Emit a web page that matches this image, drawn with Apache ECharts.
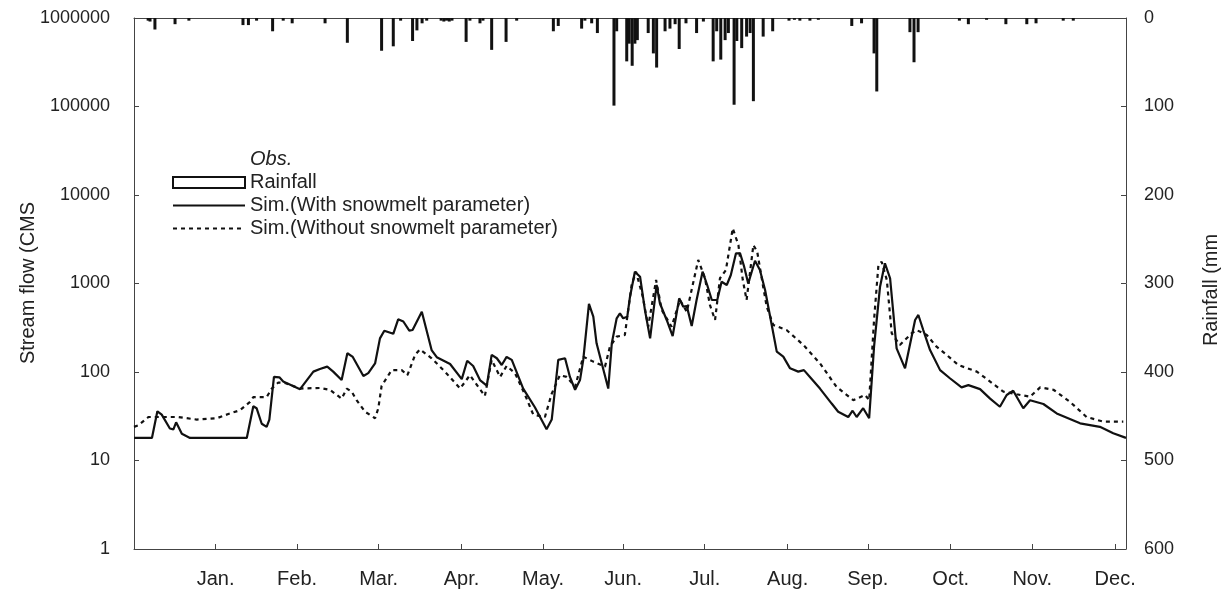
<!DOCTYPE html>
<html>
<head>
<meta charset="utf-8">
<script src="https://cdn.jsdelivr.net/npm/echarts@6/dist/echarts.min.js"></script>
<style>
html,body{margin:0;padding:0;background:#fff;}
#chart{width:1228px;height:594px;}
</style>
</head>
<body>
<div id="chart"></div>
<script>
// ---- data (day of year, values) ----
const monthTicks = [30, 60, 90, 120.5, 150.5, 180, 210, 240.5, 270, 300.5, 330.5, 361];
const monthLabels = ['Jan.', 'Feb.', 'Mar.', 'Apr.', 'May.', 'Jun.', 'Jul.', 'Aug.', 'Sep.', 'Oct.', 'Nov.', 'Dec.'];

const withDays = [0, 6.6, 8.6, 10.2, 13.2, 14.5, 15.5, 17.6, 20.6, 41.5, 43.9, 45.1, 47.0, 48.8, 49.8, 51.5, 53.5, 54.9, 61.1, 66.0, 68.4, 71.1, 73.3, 76.4, 78.5, 80.5, 84.4, 86.2, 88.7, 90.5, 92.1, 95.4, 97.2, 99.1, 101.3, 102.5, 105.9, 109.5, 111.4, 116.3, 120.6, 122.6, 124.8, 127.3, 129.8, 131.6, 133.5, 135.3, 137.1, 139.0, 143.2, 147.5, 151.8, 153.7, 156.1, 158.6, 160.4, 162.3, 164.1, 165.3, 167.4, 169.0, 170.2, 174.5, 175.8, 177.6, 178.8, 180.0, 181.5, 182.5, 184.3, 186.2, 188.0, 189.9, 192.3, 193.5, 196.0, 198.2, 200.6, 202.1, 203.4, 205.2, 207.0, 209.2, 210.9, 212.6, 214.6, 216.2, 218.1, 219.6, 221.5, 223.0, 224.5, 226.0, 228.5, 230.3, 232.2, 234.3, 236.5, 238.9, 241.4, 244.4, 246.5, 248.7, 252.4, 256.7, 259.1, 262.8, 264.4, 265.9, 268.3, 270.5, 272.3, 274.5, 276.3, 278.2, 280.6, 283.7, 287.4, 288.6, 290.4, 292.9, 296.6, 300.2, 304.5, 307.0, 311.3, 315.0, 318.6, 321.1, 323.5, 327.2, 329.7, 334.6, 339.5, 348.1, 355.4, 360.3, 365];
const withFlow = [18, 18, 36, 33, 23, 22.5, 27, 20, 18, 18, 41, 39, 26, 24, 29, 88, 87, 78, 64, 101, 108, 115, 101, 81, 163, 148, 90, 97, 125, 240, 293, 270, 394, 372, 293, 298, 480, 177, 147, 123, 83, 134, 117, 81, 70, 156, 143, 120, 148, 137, 65, 40, 22.5, 29, 137, 143, 88, 63, 81, 137, 587, 422, 211, 65, 211, 404, 460, 404, 422, 709, 1360, 1194, 500, 240, 962, 598, 387, 255, 680, 547, 555, 331, 651, 1360, 962, 651, 651, 1047, 962, 1247, 2194, 2194, 1550, 1000, 1808, 1422, 845, 387, 170, 149, 110, 101, 105, 88, 65, 44, 35.6, 31, 36.5, 31, 39, 30, 193, 920, 1691, 1146, 185, 110, 387, 441, 298, 177, 105, 85, 67, 71, 64, 50, 40.5, 55, 61.5, 39, 48, 43.5, 34, 26.3, 24, 20.3, 18];

const withoutDays = [0, 1.6, 5.3, 9.6, 16.3, 23.1, 30.4, 34.7, 39.0, 42.7, 43.9, 48.8, 50.7, 53.1, 55.6, 61.1, 68.4, 72.1, 76.4, 78.3, 80.1, 81.9, 85.0, 88.7, 89.9, 91.1, 94.8, 98.5, 100.6, 103.4, 105.2, 109.5, 114.4, 120.0, 123.6, 129.1, 131.6, 134.7, 137.1, 140.2, 143.9, 146.9, 151.2, 153.7, 156.7, 159.2, 162.3, 165.3, 169.0, 173.3, 175.1, 177.6, 180.6, 183.1, 184.7, 187.2, 189.2, 192.1, 194.2, 197.8, 200.9, 203.4, 207.6, 210.1, 211.9, 213.8, 215.6, 217.8, 220.3, 222.4, 224.0, 225.4, 227.9, 229.3, 231.5, 232.8, 235.2, 240.1, 246.3, 252.4, 258.5, 264.7, 269.0, 270.5, 272.3, 273.9, 275.1, 277.0, 278.8, 281.8, 286.1, 287.9, 291.7, 295.3, 299.0, 303.3, 310.1, 314.3, 319.9, 324.8, 329.7, 333.4, 338.3, 344.4, 350.5, 356.6, 364.0];
const withoutFlow = [24, 25, 31, 31, 31, 29, 30, 33.5, 37, 46, 52, 52, 65, 76, 75, 65, 66, 63, 50, 65, 60, 48, 35.6, 30, 39, 69.5, 105, 105, 92, 156, 180, 143, 101, 65, 92, 53.5, 137, 88, 117, 97, 55, 33, 31, 57, 92, 88, 68, 149, 131, 115, 193, 251, 262, 962, 1360, 709, 325, 1095, 500, 325, 651, 480, 1844, 1146, 572, 387, 1146, 1422, 4200, 2720, 1095, 651, 2720, 2290, 920, 547, 340, 298, 202, 125, 68, 48, 55, 48, 387, 1618, 1762, 1095, 273, 202, 273, 298, 262, 193, 156, 120, 101, 81, 60, 56, 52.5, 67, 63, 46, 31, 27.5, 27.5];

const rainDays = [5.2, 5.9, 7.7, 15.1, 20.2, 40.1, 42.1, 45.1, 51.0, 54.9, 58.2, 70.3, 78.5, 91.1, 95.4, 98.1, 102.5, 104.1, 106, 107.7, 113, 114, 115, 116, 117, 122.2, 123.6, 127.3, 128.4, 131.6, 136.9, 140.8, 154.3, 156.1, 164.7, 165.9, 168.4, 170.5, 176.6, 177.6, 181.3, 182.2, 183.3, 184.3, 185.2, 189.2, 191.1, 192.3, 195.4, 197.2, 199.1, 200.6, 203.1, 207.0, 209.5, 213.1, 214.4, 215.9, 217.5, 218.7, 220.8, 221.8, 223.6, 225.4, 226.7, 227.9, 231.5, 235.0, 241, 243, 245, 248.7, 251.8, 264.1, 267.7, 272.3, 273.3, 285.5, 287.0, 288.5, 303.7, 307.0, 313.7, 320.8, 328.5, 331.9, 341.9, 345.6];
const rainMm = [3, 4, 13, 7, 3, 8, 8, 3, 15, 3, 6, 6, 28, 37, 32, 3, 26, 14, 6, 3, 3, 4, 3, 4, 3, 27, 3, 6, 3, 36, 27, 3, 15, 9, 12, 3, 6, 17, 99, 15, 49, 29, 54, 29, 25, 17, 40, 56, 15, 12, 7, 35, 6, 17, 4, 49, 15, 47, 25, 17, 98, 26, 34, 21, 17, 94, 21, 15, 3, 2, 3, 3, 2, 9, 6, 40, 83, 16, 50, 16, 3, 7, 2, 7, 7, 6, 3, 3];

const pair = (xs, ys) => xs.map((x, i) => [x, ys[i]]);

const FONT = "'Liberation Sans', Arial, sans-serif";
const INK = '#111';

const chart = echarts.init(document.getElementById('chart'), null, {renderer: 'canvas'});
chart.setOption({
  animation: false,
  backgroundColor: '#fff',
  textStyle: {fontFamily: FONT, color: '#222'},
  grid: {left: 134, right: 102, top: 18, bottom: 45},
  legend: {
    left: 167, top: 144, orient: 'vertical',
    itemWidth: 72, itemHeight: 11, itemGap: 2,
    selectedMode: false,
    textStyle: {fontFamily: FONT, fontSize: 20, lineHeight: 21, color: '#222'},
    data: [
      {name: 'Obs.', icon: 'none', textStyle: {fontStyle: 'italic'}},
      {name: 'Rainfall', icon: 'rect', itemStyle: {color: '#fff', borderColor: INK, borderWidth: 2}},
      {name: 'Sim.(With snowmelt parameter)', itemStyle: {opacity: 0}},
      {name: 'Sim.(Without snowmelt parameter)', itemStyle: {opacity: 0}}
    ]
  },
  xAxis: [{
    type: 'value', min: 0, max: 365, position: 'bottom',
    splitLine: {show: false},
    axisLine: {onZero: false, lineStyle: {color: '#444', width: 1}},
    axisTick: {customValues: monthTicks, inside: true, length: 5, lineStyle: {color: '#444'}},
    axisLabel: {
      customValues: monthTicks, fontSize: 20, margin: 20, color: '#222', fontFamily: FONT,
      formatter: function (v) {
        let best = 0;
        monthTicks.forEach((t, i) => { if (Math.abs(t - v) < Math.abs(monthTicks[best] - v)) best = i; });
        return monthLabels[best];
      }
    }
  }, {
    type: 'value', min: 0, max: 365, position: 'top',
    splitLine: {show: false},
    axisLine: {show: true, onZero: false, lineStyle: {color: '#444', width: 1}},
    axisTick: {show: false}, axisLabel: {show: false}
  }],
  yAxis: [{
    type: 'log', logBase: 10, min: 1, max: 1000000, position: 'left',
    splitLine: {show: false},
    axisLine: {show: true, onZero: false, lineStyle: {color: '#444', width: 1}},
    axisTick: {show: true, inside: true, length: 5, lineStyle: {color: '#444'}},
    minorTick: {show: false},
    axisLabel: {fontSize: 18, margin: 24, color: '#222', fontFamily: FONT,
      formatter: v => String(Math.round(v))}
  }, {
    type: 'value', min: 0, max: 600, interval: 100, inverse: true, position: 'right',
    splitLine: {show: false},
    axisLine: {show: true, onZero: false, lineStyle: {color: '#444', width: 1}},
    axisTick: {show: true, inside: true, length: 5, lineStyle: {color: '#444'}},
    axisLabel: {fontSize: 18, margin: 18, color: '#222', fontFamily: FONT}
  }],
  graphic: [
    {type: 'text', x: 28, y: 283, rotation: Math.PI / 2,
      style: {text: 'Stream flow (CMS', fontSize: 20, fontFamily: FONT, fill: '#222', align: 'center', verticalAlign: 'middle'}},
    {type: 'text', x: 1211, y: 290, rotation: Math.PI / 2,
      style: {text: 'Rainfall (mm', fontSize: 20, fontFamily: FONT, fill: '#222', align: 'center', verticalAlign: 'middle'}}
  ],
  series: [
    {name: 'Obs.', type: 'line', data: [], symbol: 'none', lineStyle: {opacity: 0}},
    {name: 'Rainfall', type: 'bar', xAxisIndex: 0, yAxisIndex: 1, barWidth: 3,
      itemStyle: {color: INK}, data: pair(rainDays, rainMm)},
    {name: 'Sim.(With snowmelt parameter)', type: 'line', xAxisIndex: 0, yAxisIndex: 0,
      symbol: 'none', lineStyle: {color: INK, width: 2.2, type: 'solid'}, itemStyle: {color: INK},
      data: pair(withDays, withFlow)},
    {name: 'Sim.(Without snowmelt parameter)', type: 'line', xAxisIndex: 0, yAxisIndex: 0,
      symbol: 'none', lineStyle: {color: INK, width: 2.2, type: [4, 4]}, itemStyle: {color: INK},
      data: pair(withoutDays, withoutFlow)}
  ]
});
</script>
</body>
</html>
